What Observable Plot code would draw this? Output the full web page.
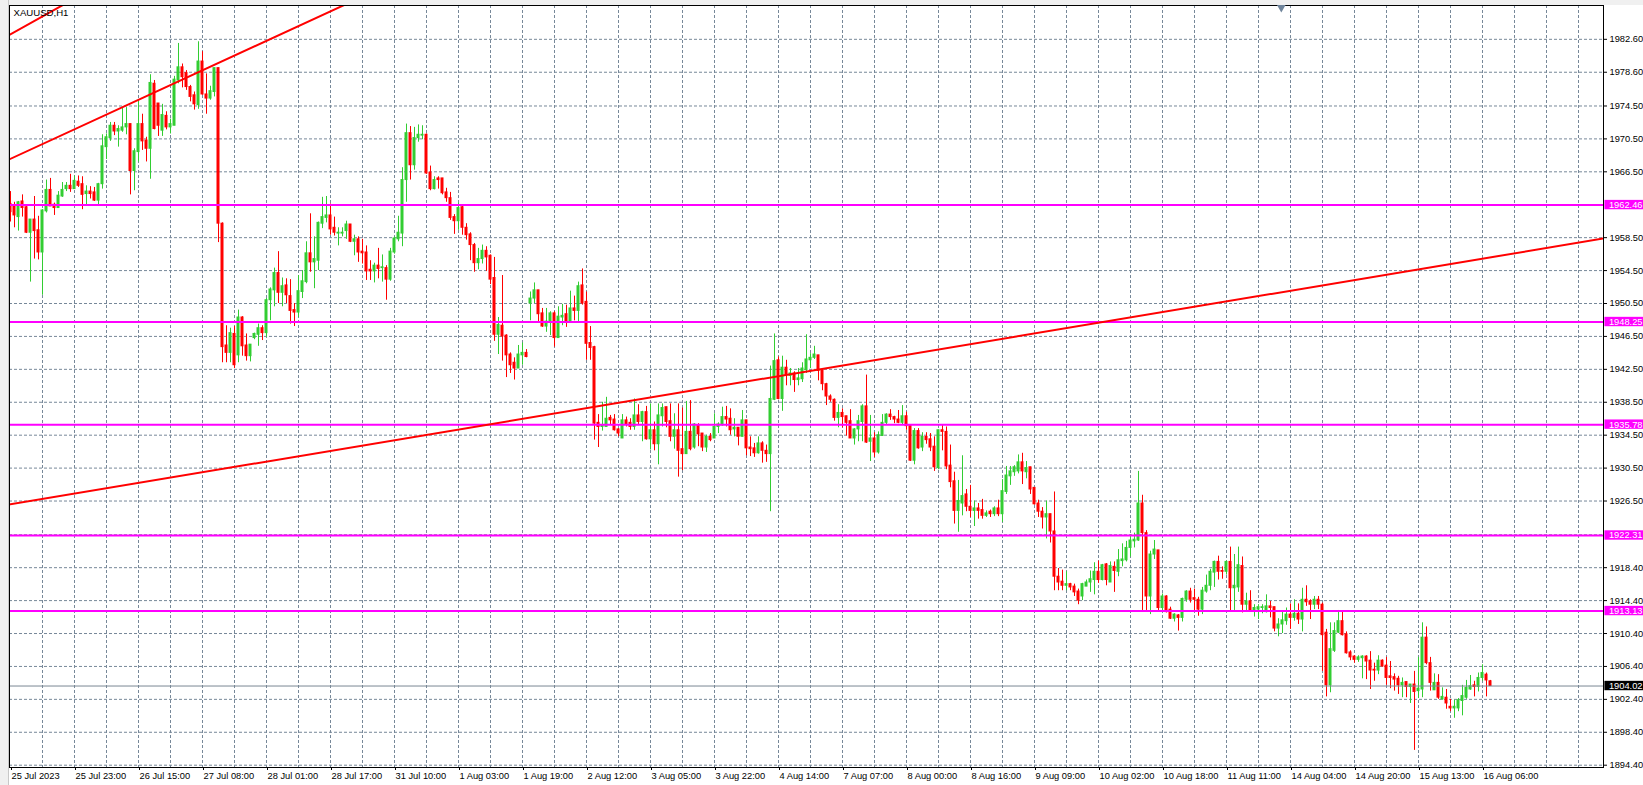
<!DOCTYPE html>
<html><head><meta charset="utf-8">
<script src="https://cdn.jsdelivr.net/npm/d3@7"></script>
<script src="https://cdn.jsdelivr.net/npm/@observablehq/plot@0.6"></script>
<style>
html,body{margin:0;padding:0;background:#fff;overflow:hidden}
#chart{position:relative;width:1643px;height:785px}
#stripL{position:absolute;left:0;top:0;width:8px;height:785px;background:#f0f0f0;border-right:1px solid #c8c8c8}
#stripT{position:absolute;left:0;top:0;width:1643px;height:5px;background:#f0f0f0}
</style></head>
<body><div id="chart"><div id="stripT"></div><div id="stripL"></div></div>
<script>
const title = "XAUUSD,H1";
const open = [
1962.6,1962.3,1961.0,1962.9,1962.2,1959.1,1960.7,1959.4,1956.7,1961.7,
1964.3,1962.5,1962.1,1963.5,1964.4,1964.8,1964.4,1965.3,1965.0,1963.8,
1964.1,1964.0,1963.0,1965.0,1969.5,1970.6,1972.1,1971.4,1971.5,1971.9,
1972.3,1966.6,1968.9,1972.3,1970.3,1969.3,1977.2,1974.8,1971.5,1973.3,
1971.9,1972.1,1977.6,1979.2,1978.5,1976.8,1975.8,1974.6,1979.9,1975.9,
1975.4,1976.2,1979.1,1960.2,1945.4,1944.5,1946.8,1944.2,1948.8,1945.4,
1944.1,1946.3,1946.7,1947.5,1946.9,1950.9,1952.1,1954.2,1951.8,1952.7,
1951.4,1949.7,1949.4,1951.9,1953.1,1956.6,1955.5,1955.7,1960.2,1960.9,
1961.2,1959.7,1959.0,1959.0,1959.3,1960.1,1958.0,1958.3,1956.8,1956.7,
1954.6,1954.4,1955.1,1954.8,1954.8,1953.4,1956.7,1958.3,1959.0,1965.5,
1971.2,1967.3,1970.6,1970.9,1971.0,1966.4,1964.4,1965.7,1965.7,1964.0,
1963.3,1961.0,1960.5,1962.2,1959.7,1958.9,1957.6,1955.4,1955.9,1956.9,
1956.3,1953.6,1946.7,1947.8,1946.6,1944.3,1943.3,1942.6,1944.2,1944.5,
1950.5,1951.1,1952.1,1949.3,1947.7,1948.3,1949.3,1946.3,1948.8,1949.2,
1948.2,1949.9,1949.6,1952.7,1950.7,1945.7,1945.2,1936.0,1935.5,1935.5,
1936.6,1936.4,1935.2,1934.1,1936.3,1936.0,1935.5,1936.9,1936.1,1937.3,
1934.0,1935.1,1933.4,1936.8,1937.9,1936.2,1934.3,1935.1,1932.8,1932.2,
1934.9,1933.0,1935.7,1934.7,1933.0,1934.3,1934.1,1935.5,1935.7,1936.7,
1936.5,1935.2,1935.4,1934.3,1936.3,1933.0,1932.9,1932.3,1933.5,1932.6,
1932.2,1938.8,1943.6,1938.9,1942.7,1941.7,1942.0,1941.2,1941.3,1942.4,
1943.6,1943.9,1944.2,1942.4,1940.7,1939.2,1938.8,1936.6,1937.2,1936.8,
1936.2,1934.1,1935.2,1936.1,1938.0,1933.7,1934.1,1932.4,1934.4,1936.0,
1937.0,1936.7,1936.4,1936.0,1936.8,1935.7,1931.4,1935.0,1933.0,1934.3,
1934.0,1933.1,1930.5,1935.1,1934.9,1930.8,1928.9,1925.3,1926.2,1927.3,
1925.8,1925.3,1925.6,1925.4,1924.7,1925.2,1924.9,1925.6,1924.9,1927.6,
1929.5,1930.0,1930.1,1931.2,1930.0,1930.6,1928.1,1926.2,1925.2,1924.5,
1924.9,1922.8,1917.3,1916.7,1916.2,1916.4,1916.1,1915.5,1914.9,1916.1,
1916.6,1916.9,1917.9,1916.9,1918.8,1916.6,1918.5,1917.9,1919.2,1919.3,
1920.8,1921.6,1921.7,1926.2,1922.6,1914.9,1920.0,1920.5,1913.5,1914.9,
1913.3,1912.2,1912.6,1912.3,1914.5,1915.5,1914.7,1914.5,1913.3,1915.5,
1916.2,1917.8,1919.1,1918.0,1917.9,1919.1,1915.9,1916.0,1918.6,1913.9,
1914.3,1913.2,1913.3,1913.5,1913.0,1913.7,1913.6,1911.0,1911.5,1911.9,
1912.7,1912.3,1912.8,1912.1,1914.5,1914.3,1913.9,1914.5,1913.9,1910.5,
1904.1,1908.3,1910.5,1911.9,1910.3,1908.1,1907.6,1907.2,1907.4,1907.6,
1907.1,1906.0,1905.9,1907.1,1906.5,1905.2,1905.1,1904.9,1904.1,1904.5,
1903.9,1904.2,1903.4,1903.6,1909.9,1906.8,1903.5,1904.4,1902.4,1902.6,
1901.5,1901.3,1901.3,1902.2,1902.6,1903.6,1904.1,1903.9,1905.0,1905.4,
1904.6];
const high = [
1964.1,1962.8,1962.9,1963.7,1962.4,1960.7,1963.5,1961.1,1961.9,1965.5,
1965.7,1962.7,1964.1,1965.2,1965.2,1966.2,1966.0,1966.0,1965.9,1964.8,
1964.7,1964.6,1965.1,1971.0,1971.1,1972.5,1972.5,1972.1,1974.2,1974.3,
1972.3,1969.3,1975.1,1973.5,1970.7,1978.3,1977.6,1974.8,1974.7,1973.8,
1972.9,1978.1,1982.1,1979.6,1978.8,1977.0,1976.2,1982.3,1981.1,1978.4,
1976.9,1979.1,1979.1,1960.3,1947.8,1947.5,1947.7,1949.7,1948.9,1946.8,
1945.5,1946.9,1948.0,1947.8,1951.1,1952.4,1954.8,1956.8,1953.6,1953.5,
1953.4,1950.5,1953.9,1954.5,1958.0,1961.4,1958.6,1960.4,1963.4,1963.5,
1962.6,1961.0,1959.7,1959.7,1960.5,1960.1,1958.8,1958.6,1958.3,1957.5,
1955.7,1955.4,1957.2,1956.4,1955.1,1957.2,1958.6,1961.1,1967.0,1972.3,
1972.0,1971.9,1972.2,1972.1,1971.1,1967.2,1965.9,1965.9,1965.7,1964.5,
1964.0,1961.3,1962.7,1962.3,1960.2,1959.1,1957.8,1957.2,1957.6,1957.4,
1956.4,1956.1,1948.8,1953.9,1946.7,1944.5,1943.9,1945.4,1945.7,1944.9,
1951.9,1953.0,1952.1,1949.9,1949.9,1949.5,1949.5,1950.1,1950.4,1950.3,
1952.0,1951.4,1953.1,1954.7,1951.9,1947.7,1945.3,1937.0,1938.5,1939.1,
1936.9,1937.0,1935.3,1937.0,1936.7,1936.5,1938.9,1938.2,1937.4,1938.0,
1938.3,1936.1,1938.3,1938.3,1937.9,1938.3,1937.1,1938.3,1937.8,1938.6,
1938.7,1935.9,1935.9,1934.7,1934.5,1934.7,1937.1,1936.0,1937.9,1938.0,
1937.7,1936.5,1935.4,1937.5,1936.3,1934.3,1933.5,1934.3,1933.7,1933.3,
1942.9,1946.8,1944.0,1944.1,1943.6,1942.6,1942.2,1942.6,1943.3,1946.7,
1944.4,1945.3,1944.2,1942.4,1940.8,1939.4,1938.9,1938.2,1937.7,1936.8,
1937.6,1935.3,1936.9,1938.2,1941.8,1936.9,1934.8,1934.9,1937.0,1937.1,
1937.6,1936.8,1937.5,1938.1,1937.3,1935.7,1935.3,1935.3,1934.8,1934.8,
1934.7,1934.3,1935.1,1935.7,1935.5,1933.3,1930.0,1929.0,1932.0,1927.9,
1928.4,1926.5,1926.2,1926.7,1925.3,1925.4,1925.8,1926.6,1929.1,1930.7,
1930.7,1930.8,1932.1,1932.3,1931.3,1930.6,1928.1,1926.6,1925.7,1926.5,
1924.9,1927.6,1918.3,1918.1,1917.9,1916.5,1916.4,1915.8,1916.5,1916.9,
1918.0,1919.0,1919.2,1918.8,1918.9,1919.1,1919.1,1920.6,1921.3,1921.6,
1922.4,1922.6,1930.1,1927.2,1922.9,1920.4,1921.7,1920.5,1915.2,1915.0,
1913.6,1912.8,1912.7,1914.7,1915.6,1915.9,1915.8,1914.8,1916.0,1917.5,
1918.2,1919.2,1919.8,1918.5,1919.2,1920.9,1920.0,1920.9,1919.7,1915.3,
1915.6,1913.9,1913.9,1913.9,1915.1,1914.3,1913.6,1912.2,1913.1,1913.5,
1914.0,1914.5,1914.0,1915.9,1916.2,1914.5,1914.9,1914.9,1914.1,1910.9,
1911.7,1911.7,1913.2,1913.1,1910.6,1908.3,1907.7,1907.7,1907.7,1907.7,
1908.2,1906.8,1907.7,1907.2,1907.5,1907.0,1905.5,1905.2,1905.0,1904.5,
1904.2,1905.8,1907.5,1911.7,1911.2,1907.5,1905.5,1905.4,1903.8,1903.6,
1902.4,1902.3,1902.5,1904.1,1904.7,1905.3,1904.6,1905.6,1906.6,1905.6,
1904.7];
const low = [
1960.4,1959.7,1959.3,1961.0,1959.0,1953.1,1955.9,1955.8,1951.5,1961.5,
1962.3,1961.2,1962.1,1963.4,1964.1,1964.0,1964.4,1964.6,1961.9,1962.3,
1963.2,1962.9,1962.3,1964.4,1968.0,1970.2,1970.9,1969.5,1971.3,1971.0,
1963.7,1964.2,1967.7,1969.1,1967.7,1965.6,1971.6,1970.8,1970.8,1971.6,
1971.1,1972.1,1977.2,1976.7,1976.4,1975.0,1974.0,1974.1,1975.8,1973.5,
1975.2,1975.6,1957.9,1943.3,1943.3,1943.3,1942.6,1943.3,1944.1,1943.5,
1943.4,1946.1,1945.3,1946.0,1946.4,1948.4,1950.1,1950.5,1950.1,1950.5,
1948.0,1947.7,1948.8,1951.1,1952.9,1954.3,1952.3,1954.5,1959.6,1960.3,
1958.8,1958.7,1957.5,1958.6,1958.3,1957.9,1956.3,1955.5,1955.3,1953.3,
1953.3,1953.0,1953.5,1953.1,1950.9,1953.2,1956.5,1958.0,1957.4,1962.8,
1965.5,1966.7,1970.1,1970.4,1966.2,1964.2,1964.3,1964.4,1963.7,1962.8,
1960.6,1958.9,1959.4,1958.8,1958.2,1955.7,1954.3,1954.6,1955.3,1954.4,
1952.8,1945.9,1944.3,1943.5,1941.5,1942.0,1941.2,1942.6,1943.0,1943.9,
1948.4,1950.5,1948.2,1947.6,1947.0,1946.6,1945.2,1946.3,1947.8,1947.6,
1948.2,1948.4,1948.2,1950.3,1943.6,1943.6,1933.9,1933.0,1935.0,1935.5,
1935.7,1935.0,1934.3,1934.1,1935.5,1935.1,1935.1,1935.7,1933.7,1933.9,
1932.7,1932.6,1930.9,1935.5,1935.4,1933.7,1932.8,1929.4,1930.2,1932.2,
1932.6,1932.8,1933.1,1932.5,1932.4,1933.7,1934.1,1934.7,1935.6,1935.5,
1934.5,1934.3,1933.2,1934.3,1932.0,1931.9,1931.8,1932.2,1931.1,1931.2,
1925.2,1938.7,1938.8,1937.4,1940.5,1940.5,1939.7,1940.5,1940.9,1942.0,
1942.6,1943.7,1941.1,1939.9,1938.1,1938.5,1936.2,1935.4,1935.4,1934.4,
1934.1,1933.3,1933.7,1933.7,1933.5,1931.3,1931.8,1932.2,1934.4,1935.7,
1936.3,1935.9,1935.9,1935.7,1935.1,1931.3,1930.9,1932.8,1932.5,1933.4,
1932.5,1930.1,1930.3,1932.6,1930.3,1928.1,1923.7,1922.7,1924.7,1925.2,
1924.5,1923.4,1924.3,1924.3,1924.5,1924.5,1924.6,1924.6,1923.9,1927.3,
1928.4,1929.5,1929.8,1928.5,1929.2,1927.3,1926.0,1924.5,1923.1,1921.9,
1921.4,1915.6,1915.6,1915.6,1915.6,1915.6,1914.9,1913.9,1914.4,1916.1,
1915.4,1915.1,1916.5,1916.8,1916.2,1916.6,1915.4,1917.3,1918.5,1919.1,
1919.7,1920.8,1921.6,1913.2,1913.2,1912.7,1919.4,1913.2,1913.0,1912.9,
1912.1,1911.8,1910.7,1911.8,1914.2,1914.1,1913.1,1912.5,1912.7,1915.3,
1915.6,1916.0,1916.9,1917.0,1917.5,1913.1,1913.2,1915.4,1912.9,1913.1,
1913.0,1912.4,1912.1,1912.8,1912.9,1912.3,1910.6,1910.0,1910.4,1911.4,
1910.9,1911.9,1911.5,1910.6,1913.7,1912.1,1913.3,1913.3,1905.8,1902.7,
1903.2,1908.1,1910.4,1910.1,1907.9,1907.1,1906.8,1906.9,1904.9,1904.8,
1903.6,1904.6,1905.4,1906.3,1904.1,1903.7,1903.4,1903.0,1902.6,1902.6,
1901.9,1896.2,1902.5,1902.6,1906.6,1903.4,1903.5,1902.4,1902.3,1901.2,
1900.9,1900.1,1900.9,1900.4,1902.4,1903.5,1902.7,1903.3,1904.6,1902.7,
1904.0];
const close = [
1961.6,1961.2,1962.8,1962.1,1959.1,1960.7,1959.3,1956.7,1961.8,1964.3,
1962.3,1962.1,1963.6,1964.3,1964.8,1964.4,1965.4,1964.8,1963.7,1964.1,
1963.8,1963.0,1965.0,1969.6,1970.7,1972.1,1971.4,1971.7,1971.9,1972.3,
1966.6,1969.0,1972.3,1970.2,1969.3,1977.3,1971.7,1972.1,1973.4,1971.9,
1972.3,1977.7,1979.2,1978.0,1976.8,1975.6,1974.7,1979.9,1975.9,1975.4,
1976.3,1979.1,1960.2,1945.2,1944.5,1946.9,1943.0,1948.8,1945.3,1944.1,
1945.5,1946.8,1947.5,1946.9,1950.9,1952.2,1954.2,1951.8,1952.6,1951.5,
1949.6,1949.4,1952.0,1953.2,1956.6,1955.5,1955.9,1960.3,1961.0,1961.2,
1959.5,1959.1,1959.1,1959.1,1960.1,1958.0,1958.3,1956.7,1956.6,1954.4,
1954.4,1955.1,1954.7,1954.9,1953.4,1956.8,1958.4,1959.1,1965.5,1971.2,
1967.3,1970.6,1971.0,1971.0,1966.3,1964.4,1965.5,1965.5,1963.9,1963.3,
1960.9,1960.5,1962.1,1959.7,1958.8,1957.6,1955.4,1955.9,1956.9,1956.1,
1953.4,1946.7,1947.9,1946.5,1944.2,1943.0,1942.6,1944.3,1944.5,1944.0,
1951.1,1952.1,1949.2,1947.7,1948.3,1949.3,1946.3,1948.9,1949.0,1948.2,
1949.9,1949.6,1952.6,1950.5,1945.6,1945.1,1935.9,1935.5,1935.7,1936.5,
1936.3,1935.1,1934.7,1936.3,1935.8,1935.5,1936.9,1936.1,1937.3,1934.0,
1935.1,1933.4,1936.9,1937.8,1936.1,1934.3,1935.1,1932.6,1932.2,1934.9,
1932.8,1935.8,1934.6,1933.0,1934.3,1933.9,1935.5,1935.8,1936.7,1936.4,
1935.1,1935.4,1934.3,1936.3,1932.9,1932.8,1932.3,1933.5,1932.6,1932.2,
1938.9,1943.5,1938.9,1942.7,1941.8,1942.0,1941.2,1941.4,1942.6,1943.7,
1943.9,1944.3,1942.3,1940.7,1939.2,1938.8,1936.6,1937.2,1936.7,1936.0,
1934.1,1935.2,1936.2,1938.0,1933.6,1934.1,1932.4,1934.5,1936.0,1937.0,
1936.7,1936.4,1936.0,1936.8,1935.6,1931.4,1935.0,1932.9,1934.3,1933.9,
1933.0,1930.6,1935.1,1934.9,1930.7,1928.8,1925.3,1926.5,1927.1,1925.8,
1925.3,1925.6,1925.3,1924.7,1925.0,1924.9,1925.6,1924.9,1927.7,1929.6,
1930.1,1930.6,1931.2,1930.1,1930.5,1927.9,1926.1,1925.2,1924.5,1924.9,
1922.8,1917.3,1916.6,1916.2,1916.4,1916.0,1915.4,1914.4,1916.4,1916.6,
1917.0,1917.9,1916.9,1918.7,1916.9,1918.6,1918.0,1919.3,1919.4,1920.8,
1921.7,1921.8,1926.2,1922.6,1914.9,1920.0,1920.6,1913.5,1914.9,1913.0,
1912.2,1912.7,1912.3,1914.6,1915.5,1914.5,1914.5,1913.3,1915.6,1916.2,
1917.9,1919.1,1917.9,1917.9,1919.1,1915.9,1916.2,1918.7,1913.9,1914.3,
1913.1,1913.5,1913.6,1913.6,1913.7,1913.5,1911.0,1911.5,1912.0,1912.7,
1912.3,1912.8,1912.1,1914.5,1914.2,1913.9,1914.5,1913.9,1910.2,1904.1,
1908.5,1910.7,1911.9,1910.2,1908.0,1907.5,1907.2,1907.5,1907.6,1907.0,
1905.9,1905.9,1907.1,1906.4,1905.0,1905.0,1904.8,1904.1,1904.4,1903.9,
1904.2,1903.3,1903.7,1909.9,1906.8,1904.4,1904.4,1902.6,1902.7,1901.9,
1901.3,1901.5,1902.3,1902.8,1903.8,1904.0,1903.9,1905.0,1905.6,1904.7,
1904.02];

const xTickLabels = ["25 Jul 2023","25 Jul 23:00","26 Jul 15:00","27 Jul 08:00","28 Jul 01:00","28 Jul 17:00",
  "31 Jul 10:00","1 Aug 03:00","1 Aug 19:00","2 Aug 12:00","3 Aug 05:00","3 Aug 22:00","4 Aug 14:00",
  "7 Aug 07:00","8 Aug 00:00","8 Aug 16:00","9 Aug 09:00","10 Aug 02:00","10 Aug 18:00","11 Aug 11:00",
  "14 Aug 04:00","14 Aug 20:00","15 Aug 13:00","16 Aug 06:00"];
const yTickLabels = ["1982.60","1978.60","1974.50","1970.50","1966.50","1958.50","1954.50","1950.50",
  "1946.50","1942.50","1938.50","1934.50","1930.50","1926.50","1918.40","1914.40","1910.40","1906.40",
  "1902.40","1898.40","1894.40"];
const yHiddenGrid = [1962.50, 1922.40];
const levels = [1962.46, 1948.25, 1935.78, 1922.31, 1913.13];
const currentPrice = 1904.02;
const trendBars = [[-1, 14], [-1, 85], [-1, 400]];
const trendPrices = [[1982.93, 1987.01], [1967.86, 1987.12], [1926.02, 1958.54]];
const chartShiftBar = 317.7;

// ---- build ----
const bars = open.map((o, i) => ({i, o, h: high[i], l: low[i], c: close[i], up: close[i] >= o}));
const barsPerLabel = 16, barsPerGrid = 8;
const xTicks = xTickLabels.map((_, k) => k * barsPerLabel);
const xLabelMap = new Map(xTicks.map((b, k) => [b, xTickLabels[k]]));
const yTicks = yTickLabels.map(Number);
const yLabelMap = new Map(yTicks.map((v, k) => [v, yTickLabels[k]]));
const xDomain = [-0.25, 398.25];
const yDomain = [1894.12, 1986.71];
const vGrid = d3.range(barsPerGrid, xDomain[1], barsPerGrid);
const hGrid = yTicks.concat(yHiddenGrid);
const trends = trendBars.flatMap((b, k) => b.map((x, j) => ({k, bar: x, price: trendPrices[k][j]})));
const GREEN = "#32cd32", RED = "#ff0000", GRID = "#778899", MAG = "#ff00ff";
const FS = 9.3;
const boxHalf = 0.57;

const chart = Plot.plot({
  width: 1643, height: 785,
  marginLeft: 9, marginRight: 40, marginTop: 5, marginBottom: 18,
  style: {fontFamily: "'Liberation Sans', Arial, sans-serif", background: "white", color: "black", overflow: "visible"},
  x: {type: "linear", domain: xDomain},
  y: {type: "linear", domain: yDomain},
  marks: [
    Plot.ruleX(vGrid, {stroke: GRID, strokeDasharray: "3,2"}),
    Plot.ruleY(hGrid, {stroke: GRID, strokeDasharray: "3,2"}),
    Plot.ruleX(bars, {x: "i", y1: "l", y2: "h", stroke: d => d.up ? GREEN : RED, strokeWidth: 1}),
    Plot.rect(bars, {x1: d => d.i - 0.375, x2: d => d.i + 0.375, y1: "o", y2: "c",
      fill: d => d.up ? GREEN : RED, insetTop: -0.5, insetBottom: -0.5}),
    Plot.ruleY([currentPrice], {stroke: "#7b8794", strokeWidth: 1}),
    Plot.ruleY(levels, {stroke: MAG, strokeWidth: 2}),
    Plot.line(trends, {x: "bar", y: "price", z: "k", stroke: RED, strokeWidth: 2, clip: true}),
    Plot.frame({stroke: "black"}),
    Plot.axisY(yTicks, {anchor: "right", tickSize: 3, tickPadding: 3, fontSize: FS, label: null,
      tickFormat: d => yLabelMap.get(d)}),
    Plot.axisX(xTicks, {anchor: "bottom", tickSize: 3, tickPadding: 2, fontSize: FS, label: null,
      textAnchor: "start", dx: 1, tickFormat: d => xLabelMap.get(d)}),
    Plot.rect(levels, {x1: 398.6, x2: 412, y1: d => d - boxHalf, y2: d => d + boxHalf, fill: MAG}),
    Plot.text(levels, {x: 398.6, y: d => d, text: d => d.toFixed(2), dx: 4, textAnchor: "start", fill: "white", fontSize: FS}),
    Plot.rect([currentPrice], {x1: 398.6, x2: 412, y1: d => d - boxHalf, y2: d => d + boxHalf, fill: "black"}),
    Plot.text([currentPrice], {x: 398.6, y: d => d, text: d => d.toFixed(2), dx: 4, textAnchor: "start", fill: "white", fontSize: FS}),
    Plot.text([title], {frameAnchor: "top-left", dx: 4, dy: 4, lineAnchor: "top", textAnchor: "start", text: d => d, fill: "black", fontSize: 9.6}),
    Plot.dot([chartShiftBar], {x: d => d, frameAnchor: "top", dy: 2, symbol: "triangle", rotate: 180, r: 3.2, fill: "#6f849b", stroke: "none"})
  ]
});
document.getElementById("chart").prepend(chart);
</script>
</body></html>
